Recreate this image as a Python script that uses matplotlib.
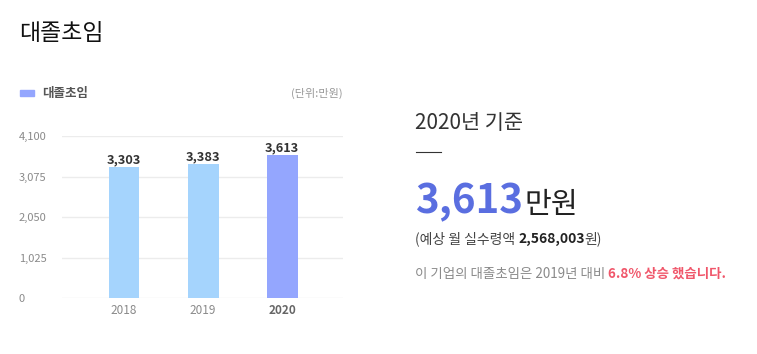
import matplotlib
matplotlib.use("Agg")
import matplotlib.pyplot as plt
from matplotlib.patches import Rectangle
from matplotlib.lines import Line2D

plt.rcParams['font.family'] = ['Noto Sans CJK KR', 'DejaVu Sans']

years = ['2018', '2019', '2020']
salaries = [3303, 3383, 3613]
bar_colors = ['#a5d4fd', '#a5d4fd', '#94a6fe']
yticks = [0, 1025, 2050, 3075, 4100]
ytick_labels = ['0', '1,025', '2,050', '3,075', '4,100']
title = '대졸초임'
unit = '(단위:만원)'
base_year = '2020년 기준'
headline_value = '3,613'
monthly_net = '2,568,003'
change_pct = '6.8%'

W, H = 757, 354
fig = plt.figure(figsize=(W / 100, H / 100), dpi=100)

def fx(px):
    return px / W

def fy(py):
    return 1 - py / H

# axes
ax = fig.add_axes([fx(62), fy(298), fx(343) - fx(62), fy(136) - fy(298)])
x = list(range(len(years)))
ax.bar(x, salaries, width=0.39, color=bar_colors, zorder=3)
ax.set_xlim(-0.785, 2.77)
ax.set_ylim(0, 4100)
ax.set_yticks(yticks)
ax.set_yticklabels(ytick_labels)
ax.set_xticks(x)
ax.set_xticklabels(years)
for lbl in ax.get_yticklabels():
    lbl.set_horizontalalignment('left')
ax.tick_params(axis='y', length=0, pad=31, labelsize=8, labelcolor='#8a8a8a')
ax.tick_params(axis='x', length=0, pad=4, labelsize=8.5, labelcolor='#8a8a8a')
ax.get_xticklabels()[-1].set_fontweight('bold')
ax.get_xticklabels()[-1].set_color('#666666')
for s in ax.spines.values():
    s.set_visible(False)
ax.grid(axis='y', color='#ececec', linewidth=1, zorder=0)
ax.set_axisbelow(True)
for xi, v in zip(x, salaries):
    ax.annotate(f'{v:,}', (xi, v), xytext=(0, 1), textcoords='offset points',
                ha='center', va='bottom', fontsize=9.2, fontweight='bold', color='#333333')

# title and legend
fig.text(fx(19), fy(34), title, fontsize=16.5, color='#111111', va='center', ha='left')
fig.patches.append(Rectangle((fx(20), fy(96)), fx(14), fy(90) - fy(96),
                             transform=fig.transFigure, color='#94a6fe'))
fig.text(fx(42), fy(93), title, fontsize=9, fontweight='bold', color='#555555', va='center')
fig.text(fx(343), fy(93), unit, fontsize=8, color='#999999', va='center', ha='right')

# right panel
fig.text(fx(415), fy(123), base_year, fontsize=15, color='#333333', va='center', ha='left')
fig.lines.append(Line2D([fx(416), fx(441)], [fy(152), fy(152)], transform=fig.transFigure,
                        color='#333333', linewidth=0.8))
t1 = fig.text(fx(415), fy(213), headline_value, fontsize=29, fontweight='bold',
              color='#5a6ee0', va='baseline', ha='left')
fig.text(fx(524), fy(213), '만원', fontsize=21, color='#222222', va='baseline', ha='left')

t2 = fig.text(fx(415), fy(243), '(예상 월 실수령액 ', fontsize=10, color='#444444',
              va='baseline', ha='left')
t3 = ax.annotate(monthly_net, xy=(1, 0), xycoords=t2, fontsize=10, fontweight='bold',
                 color='#222222', va='bottom', ha='left', annotation_clip=False)
ax.annotate('원)', xy=(1, 0), xycoords=t3, fontsize=10, color='#444444',
            va='bottom', ha='left', annotation_clip=False)

t4 = fig.text(fx(415), fy(278), '이 기업의 대졸초임은 2019년 대비 ', fontsize=9.7,
              color='#8a8a8a', va='baseline', ha='left')
ax.annotate(f'{change_pct} 상승 했습니다.', xy=(1, 0), xycoords=t4, fontsize=9.7,
            fontweight='bold', color='#f0566a', va='bottom', ha='left', annotation_clip=False)

fig.savefig('out.png', dpi=100, facecolor='white')
